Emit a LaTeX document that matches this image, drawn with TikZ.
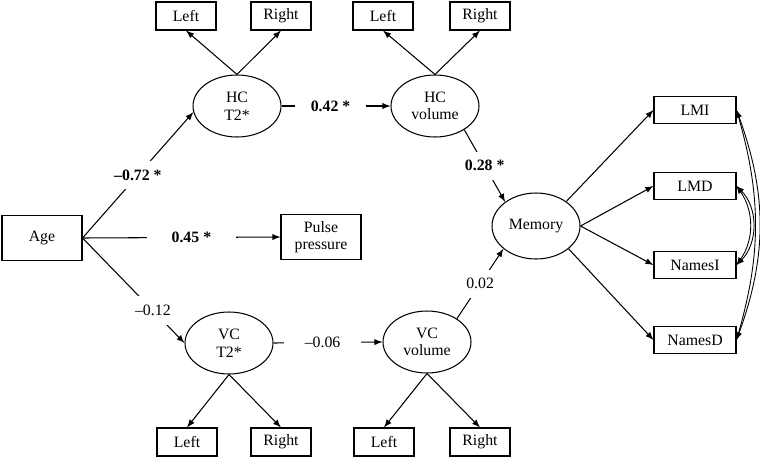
\documentclass[tikz,border=0pt]{standalone}
\usepackage{fontspec}
\setmainfont{Liberation Serif}
\usetikzlibrary{shapes.geometric}

\tikzset{
  obs/.style={draw, rectangle, line width=0.6pt, minimum width=1.2cm, minimum height=0.56cm, inner sep=1pt},
  bigobs/.style={obs, minimum width=1.6cm, minimum height=0.9cm, align=center},
  memobs/.style={obs, minimum width=1.64cm, minimum height=0.54cm},
  latent/.style={draw, ellipse, line width=0.6pt, minimum width=1.76cm, minimum height=1.24cm, align=center, inner sep=0pt},
  arr/.style={-latex, line width=0.6pt},
  corr/.style={latex-latex, line width=0.5pt},
  coef/.style={fill=white, inner xsep=6pt, inner ysep=5pt},
}

\begin{document}
\begin{tikzpicture}[x=0.02cm, y=-0.02cm, font=\fontsize{9}{10}\selectfont]

    % Fix page size to the reference
    \useasboundingbox (0,0) rectangle (760,457);

    % Observed variables
    \node[bigobs] (age) at (42,238) {Age};
    \node[bigobs] (pulse) at (321,237) {Pulse\\pressure};

    % Latent variables
    \node[latent] (hct) at (237,106) {HC\\T2*};
    \node[latent] (hcv) at (435,106) {HC\\volume};
    \node[latent] (vct) at (229,343) {VC\\T2*};
    \node[latent] (vcv) at (427,342) {VC\\volume};
    \node[latent, minimum height=1.32cm] (mem) at (536,226) {Memory};

    % Hemisphere indicators
    \node[obs] (hctl) at (186,16) {Left};
    \node[obs] (hctr) at (281,16) {Right};
    \node[obs] (hcvl) at (383,16) {Left};
    \node[obs] (hcvr) at (480,16) {Right};
    \node[obs] (vctl) at (187,442) {Left};
    \node[obs] (vctr) at (281,442) {Right};
    \node[obs] (vcvl) at (384,442) {Left};
    \node[obs] (vcvr) at (480,442) {Right};

    % Memory indicators
    \node[memobs] (lmi) at (695,110) {LMI};
    \node[memobs] (lmd) at (695,186) {LMD};
    \node[memobs] (namesi) at (695,265) {NamesI};
    \node[memobs] (namesd) at (695,340) {NamesD};

    % Structural paths
    \draw[arr] (age.east) -- node[coef, pos=.5] {\textbf{--0.72 *}} (hct.188);
    \draw[arr] (age.east) -- node[coef, pos=.55, inner xsep=14pt] {\textbf{0.45 *}} (pulse.west);
    \draw[arr] (age.east) -- node[coef, pos=.69] {--0.12} (vct.west);
    \draw[arr] (hct.east) -- node[coef, pos=.45, inner xsep=9pt] {\textbf{0.42 *}} (hcv.west);
    \draw[arr] (vct.east) -- node[coef, pos=.45, inner xsep=12pt] {--0.06} (vcv.west);
    \draw[arr] (hcv.-39) -- node[coef] {\textbf{0.28 *}} (mem.142);
    \draw[arr] (vcv.38) -- node[coef] {0.02} (mem.215);

    % Measurement paths
    \foreach \lat/\l/\r in {hct/hctl/hctr, hcv/hcvl/hcvr} {
      \draw[arr] (\lat.north) -- (\l.south);
      \draw[arr] (\lat.north) -- (\r.south);
    }
    \foreach \lat/\l/\r in {vct/vctl/vctr, vcv/vcvl/vcvr} {
      \draw[arr] (\lat.south) -- (\l.north);
      \draw[arr] (\lat.south) -- (\r.north);
    }
    \draw[arr] (mem.39) -- (lmi.west);
    \draw[arr] (mem.east) -- (lmd.west);
    \draw[arr] (mem.east) -- (namesi.west);
    \draw[arr] (mem.-35) -- (namesd.west);

    % Residual correlations
    \foreach \a in {16,20}
      \draw[corr] (lmi.east) to[bend left=\a] (namesd.east);
    \foreach \a in {35,45}
      \draw[corr] (lmd.east) to[bend left=\a] (namesi.east);
\end{tikzpicture}
\end{document}
